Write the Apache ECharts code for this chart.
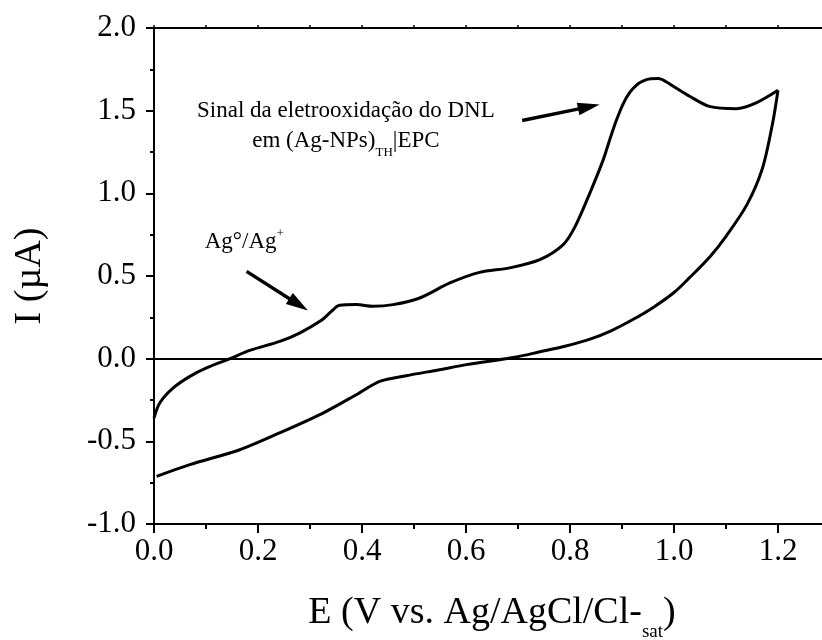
<!DOCTYPE html>
<html>
<head>
<meta charset="utf-8">
<script src="https://cdn.jsdelivr.net/npm/echarts@6/dist/echarts.min.js"></script>
<style>
  html, body { margin: 0; padding: 0; background: #fff; }
  #chart { width: 822px; height: 640px; }
</style>
</head>
<body>
<div id="chart"></div>
<script>
// varredura direta (anódica), E em V e I em µA
const forwardE = [0, 0.011, 0.037, 0.069, 0.101, 0.146, 0.184, 0.242, 0.28, 0.322, 0.341, 0.357, 0.389, 0.421, 0.46, 0.511, 0.569, 0.626, 0.684, 0.742, 0.787, 0.81, 0.838, 0.864, 0.877, 0.889, 0.902, 0.915, 0.928, 0.941, 0.955, 0.97, 0.985, 1.0, 1.03, 1.068, 1.12, 1.158, 1.2];
const forwardI = [-0.36, -0.268, -0.177, -0.107, -0.056, 0, 0.05, 0.105, 0.155, 0.232, 0.286, 0.323, 0.327, 0.317, 0.327, 0.367, 0.458, 0.522, 0.549, 0.599, 0.69, 0.8, 1.0, 1.204, 1.33, 1.44, 1.54, 1.61, 1.655, 1.68, 1.693, 1.694, 1.675, 1.645, 1.587, 1.526, 1.512, 1.547, 1.623];

// varredura inversa (catódica)
const reverseE = [1.2, 1.19, 1.17, 1.14, 1.1, 1.07, 1.03, 1.0, 0.96, 0.92, 0.88, 0.84, 0.79, 0.74, 0.697, 0.601, 0.549, 0.485, 0.434, 0.389, 0.325, 0.248, 0.165, 0.069, 0.005];
const reverseI = [1.623, 1.43, 1.15, 0.93, 0.74, 0.62, 0.49, 0.4, 0.31, 0.235, 0.17, 0.12, 0.075, 0.04, 0.01, -0.036, -0.067, -0.103, -0.137, -0.218, -0.329, -0.44, -0.551, -0.641, -0.712];

const xTicks = { min: 0, max: 1.3, interval: 0.2 };
const yTicks = { min: -1, max: 2, interval: 0.5 };

const serif = "'Liberation Serif', 'DejaVu Serif', serif";

const chart = echarts.init(document.getElementById("chart"));

const toPairs = (xs, ys) => xs.map((x, i) => [x, ys[i]]);

const lineStyle = { color: "#000", width: 3 };

chart.setOption({
  animation: false,
  backgroundColor: "#fff",
  grid: { left: 154, top: 28, width: 676, height: 496, outerBoundsMode: "none", containLabel: false },
  xAxis: [
    {
      type: "value",
      min: xTicks.min,
      max: xTicks.max,
      interval: xTicks.interval,
      name: "{a|E (V vs. Ag/AgCl/Cl-}{b|sat}{a|)}",
      nameLocation: "middle",
      nameGap: 70,
      nameTextStyle: {
        rich: {
          a: { fontFamily: serif, fontSize: 38, color: "#000", verticalAlign: "top", lineHeight: 40 },
          b: { fontFamily: serif, fontSize: 19, color: "#000", verticalAlign: "top", lineHeight: 20, padding: [29, 0, 0, 0] }
        }
      },
      axisLine: { onZero: false, lineStyle: { color: "#000", width: 2 } },
      axisTick: { inside: false, length: 9, lineStyle: { color: "#000", width: 2 } },
      minorTick: { show: true, splitNumber: 2, length: 5, lineStyle: { color: "#000", width: 2 } },
      axisLabel: {
        color: "#000",
        fontFamily: serif,
        fontSize: 31,
        margin: 12,
        showMaxLabel: false,
        formatter: v => v.toFixed(1)
      },
      splitLine: { show: false }
    },
    {
      type: "value",
      position: "top",
      min: xTicks.min,
      max: xTicks.max,
      interval: 0.1,
      axisLine: { onZero: false, lineStyle: { color: "#000", width: 2 } },
      axisTick: { inside: false, length: 3, lineStyle: { color: "#000", width: 1.5 } },
      axisLabel: { show: false },
      splitLine: { show: false }
    }
  ],
  yAxis: {
    type: "value",
    min: yTicks.min,
    max: yTicks.max,
    interval: yTicks.interval,
    name: "I (µA)",
    nameLocation: "middle",
    nameRotate: 90,
    nameGap: 105,
    nameTextStyle: { fontFamily: serif, fontSize: 38, color: "#000" },
    axisLine: { onZero: false, lineStyle: { color: "#000", width: 2 } },
    axisTick: { inside: false, length: 8, lineStyle: { color: "#000", width: 2 } },
    minorTick: { show: true, splitNumber: 2, length: 4, lineStyle: { color: "#000", width: 2 } },
    axisLabel: {
      color: "#000",
      fontFamily: serif,
      fontSize: 31,
      margin: 18,
      formatter: v => v.toFixed(1)
    },
    splitLine: { show: false }
  },
  series: [
    {
      type: "line",
      data: toPairs(forwardE, forwardI),
      showSymbol: false,
      smooth: 0.3,
      lineStyle: lineStyle,
      markLine: {
        silent: true,
        symbol: "none",
        label: { show: false },
        lineStyle: { color: "#000", width: 1.8, type: "solid" },
        data: [{ yAxis: 0 }]
      }
    },
    {
      type: "line",
      data: toPairs(reverseE, reverseI),
      showSymbol: false,
      smooth: 0.3,
      lineStyle: lineStyle
    }
  ]
});

// anotações (posições em unidades dos eixos: [E, I])
const arrows = [
  { from: [0.708, 1.44], to: [0.857, 1.537] },
  { from: [0.178, 0.528], to: [0.296, 0.292] }
];
const labels = [
  { at: [0.369, 1.512], align: "center", text: "{a|Sinal da eletrooxidação do DNL}" },
  { at: [0.369, 1.331], align: "center", text: "{a|em (Ag-NPs)}{s|TH}{a||EPC}" },
  { at: [0.0975, 0.72], align: "left", text: "{a|Ag°/Ag}{p|+}" }
];

function buildGraphics() {
  const px = p => chart.convertToPixel({ xAxisIndex: 0, yAxisIndex: 0 }, p);
  const els = [];
  arrows.forEach(a => {
    const p0 = px(a.from), p1 = px(a.to);
    const dx = p1[0] - p0[0], dy = p1[1] - p0[1];
    const len = Math.sqrt(dx * dx + dy * dy);
    const ux = dx / len, uy = dy / len;
    const headL = 22, headW = 6.5;
    const bx = p1[0] - ux * headL, by = p1[1] - uy * headL;
    els.push({
      type: "line",
      shape: { x1: p0[0], y1: p0[1], x2: bx + ux * 2, y2: by + uy * 2 },
      style: { stroke: "#000", lineWidth: 3.5 }
    });
    els.push({
      type: "polygon",
      shape: { points: [[p1[0], p1[1]], [bx - uy * headW, by + ux * headW], [bx + uy * headW, by - ux * headW]] },
      style: { fill: "#000" }
    });
  });
  labels.forEach(l => {
    const p = px(l.at);
    els.push({
      type: "text",
      x: p[0],
      y: p[1],
      style: {
        text: l.text,
        align: l.align,
        verticalAlign: "middle",
        rich: {
          a: { fontFamily: serif, fontSize: 23, fill: "#000", verticalAlign: "top", lineHeight: 26, padding: [4, 0, 0, 0] },
          s: { fontFamily: serif, fontSize: 13, fill: "#000", verticalAlign: "top", lineHeight: 14, padding: [20, 0, 0, 0] },
          p: { fontFamily: serif, fontSize: 13, fill: "#000", verticalAlign: "top", lineHeight: 14, padding: [0, 0, 0, 0] }
        }
      }
    });
  });
  chart.setOption({ graphic: els });
}

buildGraphics();
</script>
</body>
</html>
